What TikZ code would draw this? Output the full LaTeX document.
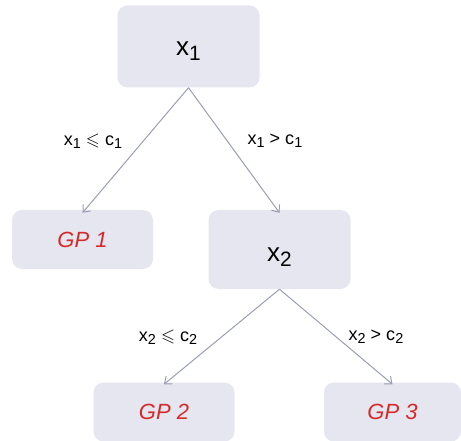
\documentclass[tikz,border=0pt]{standalone}
\usepackage{fontspec}
\usepackage{amssymb}
\setmainfont{Liberation Sans}
\usetikzlibrary{arrows.meta}
\definecolor{boxfill}{HTML}{E6E6F0}
\definecolor{edgecol}{HTML}{9A9EB2}
\definecolor{leafred}{HTML}{D42A2A}
\newcommand{\sbs}[1]{\raisebox{-0.35ex}{\scalebox{0.8}{#1}}}
\begin{document}
\begin{tikzpicture}[x=1pt,y=-1pt,
  split/.style={fill=boxfill, rounded corners=10pt, minimum width=142pt, minimum height=82pt,
    font=\fontsize{26}{30}\selectfont},
  leaf/.style={fill=boxfill, rounded corners=10pt, minimum width=141pt, minimum height=59pt,
    text=leafred, font=\fontsize{22}{26}\selectfont\itshape},
  conn/.style={draw=edgecol, line width=1pt, -{Straight Barb[length=6pt,width=10pt]}},
  cond/.style={font=\fontsize{18}{22}\selectfont}]
\useasboundingbox (0,0) rectangle (461,441);
% split nodes
\node[split] (x1) at (188.5,46.5) {};
\node[split, minimum height=79pt] (x2) at (279.5,249.5) {};
\node[font=\fontsize{26}{30}\selectfont] (t1) at (188.5,51) {x\sbs{1}};
\node[font=\fontsize{26}{30}\selectfont] (t2) at (279.5,257) {x\sbs{2}};
% leaves
\node[leaf] (gp1) at (82.5,239.5) {GP 1};
\node[leaf] (gp2) at (164,412) {GP 2};
\node[leaf, minimum width=137pt] (gp3) at (392.5,412) {GP 3};
% branches
\draw[conn] (x1.south) -- ([yshift=-3pt]gp1.north);
\draw[conn] (x1.south) -- ([yshift=-3pt]x2.north);
\draw[conn] (x2.south) -- ([yshift=-2pt]gp2.north);
\draw[conn] (x2.south) -- ([yshift=-2pt]gp3.north);
% split conditions
\node[cond] (l1) at (93,141) {x\sbs{1} $\leqslant$ c\sbs{1}};
\node[cond] (l2) at (275,141) {x\sbs{1} > c\sbs{1}};
\node[cond] (l3) at (168,337) {x\sbs{2} $\leqslant$ c\sbs{2}};
\node[cond] (l4) at (376,337) {x\sbs{2} > c\sbs{2}};
\end{tikzpicture}
\end{document}
